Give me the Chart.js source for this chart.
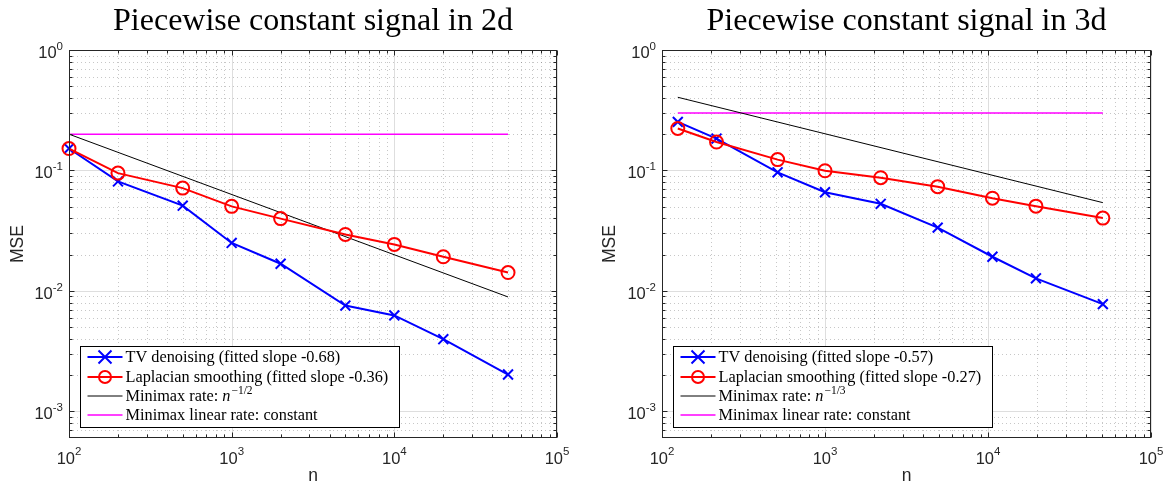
<!DOCTYPE html>
<html><head><meta charset="utf-8">
<script src="https://cdn.jsdelivr.net/npm/chart.js@4"></script>
<style>
body{margin:0;background:#fff;width:1172px;height:485px;overflow:hidden;position:relative}
.c{position:absolute;top:0;height:485px;width:586px}
</style></head><body>
<div class="c" style="left:0"><canvas id="c1"></canvas></div>
<div class="c" style="left:586px"><canvas id="c2"></canvas></div>
<script>
// ---- data ----
const n2d   = [100, 200, 500, 1000, 2000, 5000, 10000, 20000, 50000];
const tv2d  = [0.152, 0.081, 0.051, 0.025, 0.0168, 0.00755, 0.00625, 0.00397, 0.00202];
const lap2d = [0.152, 0.095, 0.0713, 0.0503, 0.0398, 0.0294, 0.0243, 0.0192, 0.0142];
const rateN2d = [100, 50000];
const rate2d  = [0.2, 0.0089];
const linN2d  = [100, 50000];
const lin2d   = [0.2, 0.2];

const n3d   = [125, 216, 512, 1000, 2197, 4913, 10648, 19683, 50653];
const tv3d  = [0.253, 0.184, 0.0964, 0.0659, 0.0528, 0.0335, 0.0192, 0.0127, 0.00776];
const lap3d = [0.223, 0.172, 0.123, 0.0994, 0.087, 0.0733, 0.0588, 0.0505, 0.0402];
const rateN3d = [125, 50653];
const rate3d  = [0.405, 0.054];
const linN3d  = [125, 50653];
const lin3d   = [0.3, 0.3];

const xTicks = [1e2, 1e3, 1e4, 1e5];
const yTicks = [1e-3, 1e-2, 1e-1, 1e0];
const xRange = [1e2, 1e5];
const yRange = [6.3e-4, 1];

const titles = ['Piecewise constant signal in 2d', 'Piecewise constant signal in 3d'];
const legend2d = ['TV denoising (fitted slope -0.68)', 'Laplacian smoothing (fitted slope -0.36)', 'Minimax rate: ', 'Minimax linear rate: constant'];
const legend3d = ['TV denoising (fitted slope -0.57)', 'Laplacian smoothing (fitted slope -0.27)', 'Minimax rate: ', 'Minimax linear rate: constant'];
const rateExp = ['\u22121/2', '\u22121/3'];
const xTitle = 'n', yTitle = 'MSE';

const SANS = '"Liberation Sans", Arial, Helvetica, sans-serif';
const SERIF = '"Liberation Serif", "Times New Roman", serif';
const AX = '#262626';
const LEGF = 16.3;

function minorVals(lo, hi){
  const out = [];
  for (let e = Math.floor(Math.log10(lo)); e <= Math.ceil(Math.log10(hi)); e++)
    for (let m = 2; m < 10; m++){ const v = m * Math.pow(10, e); if (v > lo && v < hi) out.push(v); }
  return out;
}

function build(id, o){
  const pts = (xs, ys) => xs.map((x, i) => ({x: x, y: ys[i]}));
  const plugin = {
    id: 'matlabLook',
    beforeDatasetsDraw(chart){
      const c = chart.ctx, a = chart.chartArea, xs = chart.scales.x, ys = chart.scales.y;
      c.save();
      // minor dotted grid
      c.strokeStyle = 'rgba(0,0,0,0.22)'; c.lineWidth = 1; c.setLineDash([1, 3]);
      minorVals(xRange[0], xRange[1]).forEach(v => { const p = Math.round(xs.getPixelForValue(v)) + 0.5; c.beginPath(); c.moveTo(p, a.top); c.lineTo(p, a.bottom); c.stroke(); });
      minorVals(yRange[0], yRange[1]).forEach(v => { const p = Math.round(ys.getPixelForValue(v)) + 0.5; c.beginPath(); c.moveTo(a.left, p); c.lineTo(a.right, p); c.stroke(); });
      // major grid
      c.setLineDash([]); c.strokeStyle = 'rgba(0,0,0,0.13)';
      xTicks.forEach(v => { const p = Math.round(xs.getPixelForValue(v)) + 0.5; c.beginPath(); c.moveTo(p, a.top); c.lineTo(p, a.bottom); c.stroke(); });
      yTicks.forEach(v => { if (v < yRange[0]) return; const p = Math.round(ys.getPixelForValue(v)) + 0.5; c.beginPath(); c.moveTo(a.left, p); c.lineTo(a.right, p); c.stroke(); });
      c.restore();
    },
    afterDatasetsDraw(chart){
      const c = chart.ctx, a = chart.chartArea, xs = chart.scales.x, ys = chart.scales.y;
      c.save();
      const L = Math.round(a.left) + 0.5, R = Math.round(a.right) - 0.5, T = Math.round(a.top) + 0.5, B = Math.round(a.bottom) - 0.5;
      // ticks (inward, all four sides)
      c.strokeStyle = AX; c.lineWidth = 1;
      const tickX = (v, len) => { const p = Math.round(xs.getPixelForValue(v)) + 0.5; c.beginPath(); c.moveTo(p, B); c.lineTo(p, B - len); c.moveTo(p, T); c.lineTo(p, T + len); c.stroke(); };
      const tickY = (v, len) => { const p = Math.round(ys.getPixelForValue(v)) + 0.5; c.beginPath(); c.moveTo(L, p); c.lineTo(L + len, p); c.moveTo(R, p); c.lineTo(R - len, p); c.stroke(); };
      xTicks.forEach(v => tickX(v, 5)); minorVals(xRange[0], xRange[1]).forEach(v => tickX(v, 3));
      yTicks.forEach(v => { if (v >= yRange[0]) tickY(v, 5); }); minorVals(yRange[0], yRange[1]).forEach(v => tickY(v, 3));
      // box
      c.strokeRect(L, T, R - L, B - T);
      // tick labels
      c.fillStyle = AX; c.textBaseline = 'alphabetic';
      const bigF = '16.5px ' + SANS, supF = '11.5px ' + SANS;
      xTicks.forEach(v => {
        const e = String(Math.round(Math.log10(v)));
        c.font = bigF; const w1 = c.measureText('10').width;
        c.font = supF; const w2 = c.measureText(e).width;
        const p = xs.getPixelForValue(v), x0 = p - (w1 + w2) / 2;
        c.textAlign = 'left';
        c.font = bigF; c.fillText('10', x0, 464);
        c.font = supF; c.fillText(e, x0 + w1, 455);
      });
      yTicks.forEach(v => {
        if (v < yRange[0]) return;
        const e = String(Math.round(Math.log10(v)));
        c.font = bigF; const w1 = c.measureText('10').width;
        c.font = supF; const w2 = c.measureText(e).width;
        const p = ys.getPixelForValue(v), xr = a.left - 6;
        c.textAlign = 'left';
        c.font = bigF; c.fillText('10', xr - w2 - w1, p + 8);
        c.font = supF; c.fillText(e, xr - w2, p);
      });
      // axis titles
      c.font = '17.5px ' + SANS; c.textAlign = 'center';
      c.fillText(xTitle, (a.left + a.right) / 2, 481);
      c.save(); c.translate(o.yTitleX, (a.top + a.bottom) / 2); c.rotate(-Math.PI / 2);
      c.textBaseline = 'middle'; c.fillText(yTitle, 0, 0); c.restore();
      // title
      c.fillStyle = '#000'; c.font = '32px ' + SERIF; c.textAlign = 'center'; c.textBaseline = 'alphabetic';
      c.fillText(o.title, (a.left + a.right) / 2, 30);
      // legend
      const lf = LEGF + 'px ' + SERIF;
      c.font = lf;
      const bx = Math.round(a.left) + 11.5, by = 346.5, bh = 81;
      const tx = bx + 45;
      let maxW = 0;
      o.leg.forEach((t, i) => { let w = c.measureText(t).width; if (i === 2) w += 30; maxW = Math.max(maxW, w); });
      const bw = Math.round(tx - bx + maxW + 11);
      c.fillStyle = '#fff'; c.fillRect(bx, by, bw, bh);
      c.strokeStyle = '#000'; c.lineWidth = 1; c.strokeRect(bx, by, bw, bh);
      const rows = [357, 377, 396, 415];
      const lx0 = bx + 7, lx1 = bx + 42, mx = (lx0 + lx1) / 2;
      const styles = [['#0000ff', 2], ['#ff0000', 2], ['#000000', 1], ['#ff00ff', 1.5]];
      rows.forEach((ry, i) => {
        c.strokeStyle = styles[i][0]; c.lineWidth = styles[i][1];
        c.beginPath(); c.moveTo(lx0, ry); c.lineTo(lx1, ry); c.stroke();
        if (i === 0){ const r = 6.5; c.beginPath(); c.moveTo(mx - r, ry - r); c.lineTo(mx + r, ry + r); c.moveTo(mx - r, ry + r); c.lineTo(mx + r, ry - r); c.stroke(); }
        if (i === 1){ c.beginPath(); c.arc(mx, ry, 6, 0, Math.PI * 2); c.stroke(); }
        c.fillStyle = '#000'; c.font = lf; c.textAlign = 'left'; c.textBaseline = 'middle';
        c.fillText(o.leg[i], tx, ry + 1);
        if (i === 2){
          const w = c.measureText(o.leg[i]).width;
          c.font = 'italic ' + LEGF + 'px ' + SERIF; c.fillText('n', tx + w, ry + 1);
          const wn = c.measureText('n').width;
          c.font = '11.5px ' + SERIF; c.fillText(o.exp, tx + w + wn + 1, ry - 5);
        }
      });
      c.restore();
    }
  };
  new Chart(document.getElementById(id), {
    type: 'line',
    data: { datasets: [
      { label: o.leg[0], data: pts(o.n, o.tv), borderColor: '#0000ff', borderWidth: 2, pointStyle: 'crossRot', pointRadius: 7, pointBorderWidth: 2, pointBorderColor: '#0000ff', pointBackgroundColor: '#0000ff', order: 1, clip: false },
      { label: o.leg[1], data: pts(o.n, o.lap), borderColor: '#ff0000', borderWidth: 2, pointStyle: 'circle', pointRadius: 6.5, pointBorderWidth: 2, pointBorderColor: '#ff0000', pointBackgroundColor: 'rgba(0,0,0,0)', order: 0, clip: false },
      { label: 'rate', data: pts(o.rateN, o.rate), borderColor: '#000000', borderWidth: 1, pointRadius: 0, order: 2 },
      { label: 'linear', data: pts(o.linN, o.lin), borderColor: '#ff00ff', borderWidth: 1.5, pointRadius: 0, order: 3 }
    ]},
    options: {
      responsive: true, maintainAspectRatio: false, animation: false, events: [],
      layout: { padding: { top: 50, right: o.padRight, left: 0, bottom: 0 } },
      plugins: { legend: { display: false }, tooltip: { enabled: false }, title: { display: false } },
      elements: { line: { tension: 0 } },
      scales: {
        x: { type: 'logarithmic', min: xRange[0], max: xRange[1], grid: { display: false }, border: { display: false }, ticks: { display: false }, afterFit(s){ s.height = 47; } },
        y: { type: 'logarithmic', min: yRange[0], max: yRange[1], grid: { display: false }, border: { display: false }, ticks: { display: false }, afterFit(s){ s.width = o.leftW; } }
      }
    },
    plugins: [plugin]
  });
}

build('c1', { n: n2d, tv: tv2d, lap: lap2d, rateN: rateN2d, rate: rate2d, linN: linN2d, lin: lin2d, title: titles[0], leg: legend2d, exp: rateExp[0], leftW: 69, padRight: 29, yTitleX: 18 });
build('c2', { n: n3d, tv: tv3d, lap: lap3d, rateN: rateN3d, rate: rate3d, linN: linN3d, lin: lin3d, title: titles[1], leg: legend3d, exp: rateExp[1], leftW: 76, padRight: 21, yTitleX: 24 });
</script>
</body></html>
